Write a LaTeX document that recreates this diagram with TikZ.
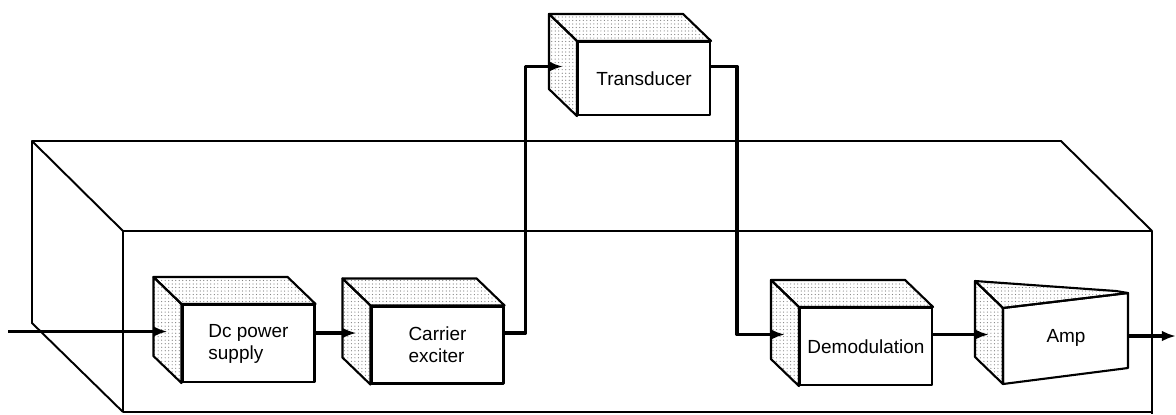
\documentclass[tikz,border=0pt]{standalone}
\usepackage{fontspec}
\newfontfamily\blockfont{Liberation Sans}
\usetikzlibrary{calc,arrows.meta,patterns.meta}

\begin{document}
\begin{tikzpicture}[x=0.02cm, y=-0.02cm, line join=round, >={Latex[length=8pt,width=6pt]},
    block/.style={draw, line width=1.2pt, fill=white, inner sep=0pt, minimum width=2.64cm,
        minimum height=1.54cm, align=left, font=\blockfont\fontsize{10.8}{12.5}\selectfont},
    face/.style={draw, line width=1.2pt, pattern={Dots[distance=2pt,radius=0.35pt]}, pattern color=black!50},
    wire/.style={line width=2pt},
    housing/.style={line width=1.1pt}]
    \useasboundingbox (0,0) rectangle (1176,414);

    \draw[housing] (123,231) -- (32,141) -- (1061,141) -- (1152,231);
    \draw[housing] (32,141) -- (32,323) -- (123,412);
    \draw[housing] (123,412) -- (123,231) -- (1152,231) -- (1152,414);
    \draw[housing] (123,412) -- (1152,412);

    \node[block] (dc) at (248.5,343.5) {Dc power\\supply};
    \node[block] (car) at (437.5,345) {Carrier\\exciter};
    \node[block, minimum height=1.46cm] (tr) at (644,78.5) {Transducer};
    \node[block] (dem) at (866,346.5) {Demodulation};

    \foreach \b in {dc,car,tr,dem} {
        \draw[face] (\b.north west) -- ++(-28,-27) -- ([shift={(-28,-27)}]\b.north east) -- (\b.north east) -- cycle;
        \draw[face] (\b.north west) -- ++(-28,-27) -- ([shift={(-28,-27)}]\b.south west) -- (\b.south west) -- cycle;
        \coordinate (\b-side) at ($(\b.west)+(-14,-12)$);
    }

    \coordinate (amp-a) at (975,281);
    \coordinate (amp-b) at (1003,308);
    \coordinate (amp-c) at (1128,293);
    \coordinate (amp-d) at (1128,368);
    \coordinate (amp-e) at (1003,384);
    \coordinate (amp-f) at (975,357);
    \coordinate (amp-g) at (1116,291);
    \draw[line width=1.2pt, fill=white] (amp-b) -- (amp-c) -- (amp-d) -- (amp-e) -- cycle;
    \draw[face] (amp-a) -- (amp-b) -- (amp-e) -- (amp-f) -- cycle;
    \draw[face] (amp-a) -- (amp-g) -- (amp-c) -- (amp-b) -- cycle;
    \node[font=\blockfont\fontsize{10.8}{12.5}\selectfont] (amp) at (1066,338) {Amp};
    \coordinate (amp-side) at (989,334.5);
    \coordinate (amp-out) at (1128,336);

    \coordinate (in) at (8,331.5);
    \coordinate (out) at (1176,336);

    \draw[wire,->] (in) -- (dc-side);
    \draw[wire,->] (dc.east |- car-side) -- (car-side);
    \draw[wire,->] (car.east |- car-side) -- ++(21,0) |- (tr-side);
    \draw[wire,->] (tr.east |- tr-side) -- ++(26,0) |- (dem-side);
    \draw[wire,->] (dem.east |- dem-side) -- (amp-side);
    \draw[wire,->] (amp-out) -- (out);
\end{tikzpicture}
\end{document}
